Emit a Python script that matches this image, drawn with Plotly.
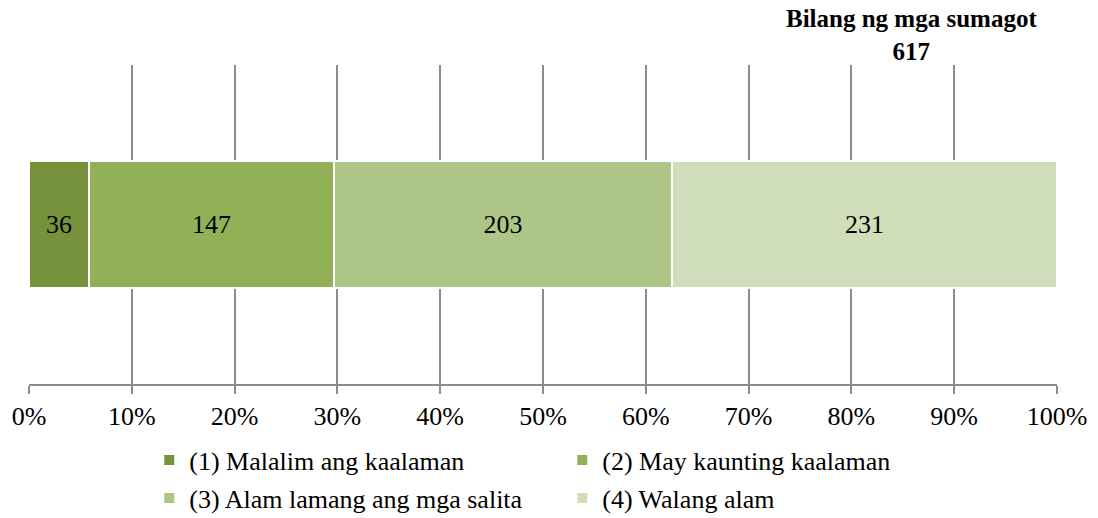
import plotly.graph_objects as go

categories = ["Sagot"]
series_names = ["(1) Malalim ang kaalaman", "(2) May kaunting kaalaman",
                "(3) Alam lamang ang mga salita", "(4) Walang alam"]
series_values = [36, 147, 203, 231]
colors = ["#77923C", "#92B055", "#ADC687", "#CFDDBA"]
tick_vals = [0, 10, 20, 30, 40, 50, 60, 70, 80, 90, 100]
tick_text = ["0%", "10%", "20%", "30%", "40%", "50%", "60%", "70%", "80%", "90%", "100%"]
total_label = 617
legend_ids = ["legend", "legend", "legend2", "legend2"]

FONT = "Liberation Serif, Times New Roman, serif"
fig = go.Figure()
for name, v, c, lg in zip(series_names, series_values, colors, legend_ids):
    fig.add_trace(go.Bar(
        y=categories, x=[v], name=name, orientation="h",
        marker=dict(color=c, line=dict(color="white", width=2)),
        text=[v], texttemplate="%{text}", textposition="inside",
        insidetextanchor="middle", constraintext="none",
        textfont=dict(family=FONT, size=26, color="black"),
        width=0.4, legend=lg,
    ))

leg_common = dict(orientation="h", xanchor="left", yanchor="top",
                  entrywidth=368, entrywidthmode="pixels", traceorder="normal",
                  font=dict(family=FONT, size=26, color="black"), itemclick=False,
                  bgcolor="rgba(0,0,0,0)")

fig.update_layout(
    width=1098, height=518,
    margin=dict(l=29, r=41, t=65, b=134, autoexpand=False),
    barmode="stack", barnorm="percent",
    plot_bgcolor="white", paper_bgcolor="white",
    font=dict(family=FONT, size=26, color="black"),
    xaxis=dict(range=[0, 100], tickvals=tick_vals, ticktext=tick_text,
               showgrid=True, gridcolor="#8C8C8C", gridwidth=2,
               showline=True, linecolor="#8C8C8C", linewidth=2,
               ticks="outside", ticklen=8, tickcolor="#8C8C8C", tickwidth=2,
               zeroline=False, tickfont=dict(family=FONT, size=26)),
    yaxis=dict(showticklabels=False, showgrid=False, zeroline=False,
               range=[-0.5, 0.5]),
    showlegend=True,
    legend=dict(x=0.117, y=-0.165, **leg_common),
    legend2=dict(x=0.117, y=-0.284, **leg_common),
    annotations=[dict(
        text=f"<b>Bilang ng mga sumagot<br>{total_label}</b>",
        xref="paper", yref="paper", x=0.858, y=1.195, xanchor="center", yanchor="top",
        showarrow=False, font=dict(family=FONT, size=25, color="black"))],
)

fig.write_html("out.html", config={"displayModeBar": False},
               post_script="document.body.style.margin='0px';")
